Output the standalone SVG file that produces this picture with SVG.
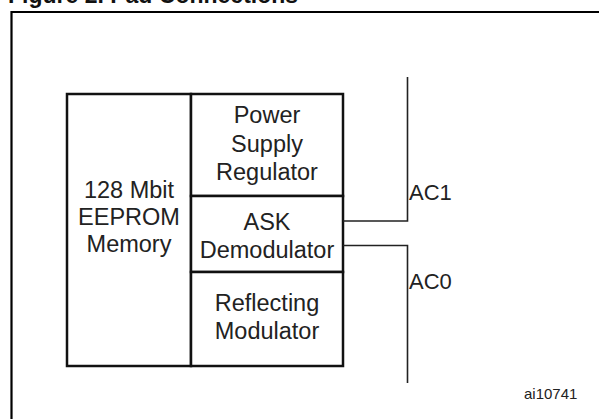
<svg xmlns="http://www.w3.org/2000/svg" width="599" height="419" viewBox="0 0 599 419">
<style>
.t{font-family:"Liberation Sans",Arial,sans-serif;font-size:23.5px;fill:#222;text-anchor:middle}
.l{font-family:"Liberation Sans",Arial,sans-serif;font-size:22px;fill:#222}
.box{fill:#fff;stroke:#111;stroke-width:2.5}
.w{fill:none;stroke:#222;stroke-width:1.6}
</style>
<rect width="599" height="419" fill="#fff"/>
<text x="8" y="3" font-family="Liberation Sans,Arial,sans-serif" font-weight="bold" font-size="23" fill="#111">Figure 2. Pad Connections</text>
<path d="M11.5 419 V12 H599" fill="none" stroke="#000" stroke-width="2.2"/>
<g id="memory">
<rect class="box" x="67" y="94" width="124" height="272"/>
<text class="t" x="129" y="198">128 Mbit</text>
<text class="t" x="129" y="225">EEPROM</text>
<text class="t" x="129" y="252">Memory</text>
</g>
<g id="power">
<rect class="box" x="191" y="94" width="152" height="102"/>
<text class="t" x="267" y="123">Power</text>
<text class="t" x="267" y="152">Supply</text>
<text class="t" x="267" y="180">Regulator</text>
</g>
<g id="ask">
<rect class="box" x="191" y="196" width="152" height="76"/>
<text class="t" x="267" y="230">ASK</text>
<text class="t" x="267" y="258">Demodulator</text>
</g>
<g id="reflect">
<rect class="box" x="191" y="272" width="152" height="94"/>
<text class="t" x="267" y="311">Reflecting</text>
<text class="t" x="267" y="339">Modulator</text>
</g>
<g id="connectors">
<path class="w" d="M343 221 H407.5 V77"/>
<path class="w" d="M343 245.5 H407.5 V383"/>
</g>
<g id="labels">
<text class="l" x="409" y="200">AC1</text>
<text class="l" x="409" y="288.5">AC0</text>
<text x="524" y="399" font-family="Liberation Sans,Arial,sans-serif" font-size="15" fill="#222">ai10741</text>
</g>
</svg>
